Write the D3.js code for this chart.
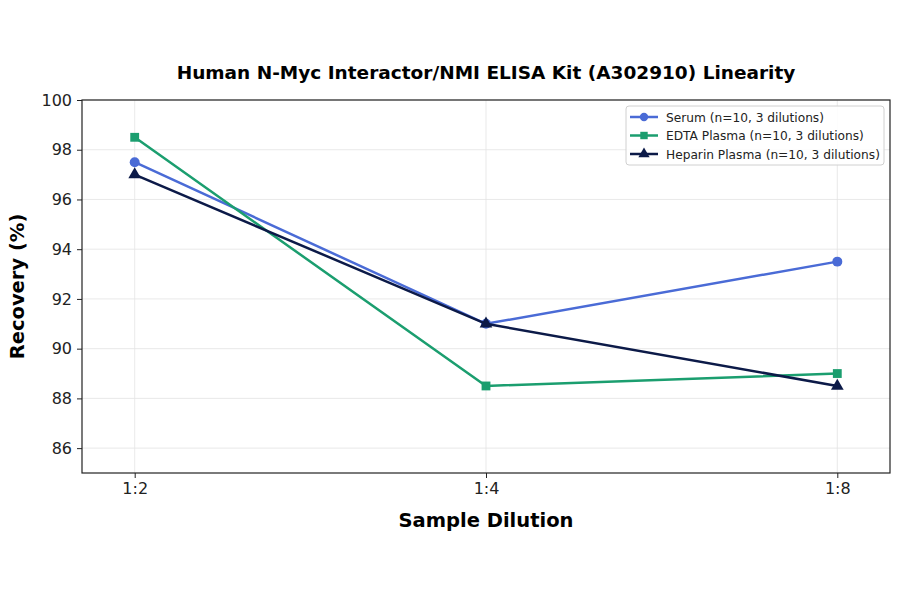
<!DOCTYPE html>
<html>
<head>
<meta charset="utf-8">
<script src="https://cdn.jsdelivr.net/npm/d3@7"></script>
<style>
  body { margin: 0; background: #fff; }
  text { font-family: "DejaVu Sans", sans-serif; }
</style>
</head>
<body>
<div class="chart"></div>
<script>
const width = 900
const height = 594

const dilutions = ["1:2", "1:4", "1:8"]
const serum = [97.5, 91.0, 93.5]
const edta = [98.5, 88.5, 89.0]
const heparin = [97.0, 91.0, 88.5]
const yTicks = [86, 88, 90, 92, 94, 96, 98, 100]

const series = [
    {name: "Serum (n=10, 3 dilutions)", values: serum, color: "#4a6bd6", shape: d3.symbolCircle},
    {name: "EDTA Plasma (n=10, 3 dilutions)", values: edta, color: "#1b9e6f", shape: d3.symbolSquare},
    {name: "Heparin Plasma (n=10, 3 dilutions)", values: heparin, color: "#0c1a48", shape: d3.symbolTriangle},
]

const margin = {top: 100, right: 10, bottom: 121, left: 82}
const innerWidth = width - margin.left - margin.right
const innerHeight = height - margin.top - margin.bottom

const svg = d3.select(".chart")
    .append("svg")
    .attr("width", width)
    .attr("height", height)

const g = svg.append("g")
    .attr("transform", `translate(${margin.left}, ${margin.top})`)

const xScale = d3.scalePoint()
    .domain(dilutions)
    .range([0, innerWidth])
    .padding(0.15)

const yScale = d3.scaleLinear()
    .domain([85, 100])
    .range([innerHeight, 0])

// grid
g.append("g")
    .selectAll("line")
    .data(yTicks)
    .enter().append("line")
        .attr("x1", 0)
        .attr("x2", innerWidth)
        .attr("y1", d => yScale(d))
        .attr("y2", d => yScale(d))
        .attr("stroke", "#e3e3e3")
        .attr("stroke-width", 0.8)

g.append("g")
    .selectAll("line")
    .data(dilutions)
    .enter().append("line")
        .attr("x1", d => xScale(d))
        .attr("x2", d => xScale(d))
        .attr("y1", 0)
        .attr("y2", innerHeight)
        .attr("stroke", "#e3e3e3")
        .attr("stroke-width", 0.8)

// axes
const xAxis = g.append("g")
    .attr("transform", `translate(0, ${innerHeight})`)
    .call(d3.axisBottom(xScale).tickSize(5).tickPadding(5))

const yAxis = g.append("g")
    .call(d3.axisLeft(yScale).tickValues(yTicks).tickSize(5).tickPadding(5))

xAxis.selectAll("text").style("font-size", "16px").style("font-family", "DejaVu Sans").attr("fill", "#222")
yAxis.selectAll("text").style("font-size", "16px").style("font-family", "DejaVu Sans").attr("fill", "#222")
svg.selectAll(".domain").remove()
svg.selectAll(".tick line").attr("stroke", "#222")

g.append("rect")
    .attr("width", innerWidth)
    .attr("height", innerHeight)
    .attr("fill", "none")
    .attr("stroke", "#222")
    .attr("stroke-width", 1.2)

// lines + markers
const line = d3.line()
    .x((d, i) => xScale(dilutions[i]))
    .y(d => yScale(d))

series.forEach(s => {
    g.append("path")
        .datum(s.values)
        .attr("d", line)
        .attr("fill", "none")
        .attr("stroke", s.color)
        .attr("stroke-width", 2.5)

    g.selectAll(null)
        .data(s.values)
        .enter().append("path")
            .attr("d", d3.symbol().type(s.shape).size(s.shape === d3.symbolTriangle ? 70 : 78))
            .attr("transform", (d, i) => `translate(${xScale(dilutions[i])}, ${yScale(d)})`)
            .attr("fill", s.color)
})

// title and labels
svg.append("text")
    .attr("x", margin.left + innerWidth / 2)
    .attr("y", 79)
    .attr("text-anchor", "middle")
    .style("font-size", "18.5px")
    .style("font-weight", "bold")
    .text("Human N-Myc Interactor/NMI ELISA Kit (A302910) Linearity")

svg.append("text")
    .attr("x", margin.left + innerWidth / 2)
    .attr("y", 527)
    .attr("text-anchor", "middle")
    .style("font-size", "19.5px")
    .style("font-weight", "bold")
    .text("Sample Dilution")

svg.append("text")
    .attr("transform", `translate(24, ${margin.top + innerHeight / 2}) rotate(-90)`)
    .attr("text-anchor", "middle")
    .style("font-size", "19.5px")
    .style("font-weight", "bold")
    .text("Recovery (%)")

// legend
const legend = svg.append("g")
    .attr("transform", "translate(626, 106)")

legend.append("rect")
    .attr("width", 258)
    .attr("height", 59)
    .attr("rx", 3)
    .attr("fill", "white")
    .attr("fill-opacity", 0.85)
    .attr("stroke", "#d0d0d0")

series.forEach((s, i) => {
    const row = legend.append("g")
        .attr("transform", `translate(0, ${11 + i * 18.5})`)
    row.append("line")
        .attr("x1", 4)
        .attr("x2", 32)
        .attr("stroke", s.color)
        .attr("stroke-width", 2.5)
    row.append("path")
        .attr("d", d3.symbol().type(s.shape).size(55))
        .attr("transform", "translate(18, 0)")
        .attr("fill", s.color)
    row.append("text")
        .attr("x", 40)
        .attr("y", 4.5)
        .style("font-size", "12.2px")
        .attr("fill", "#222")
        .text(s.name)
})
</script>
</body>
</html>
